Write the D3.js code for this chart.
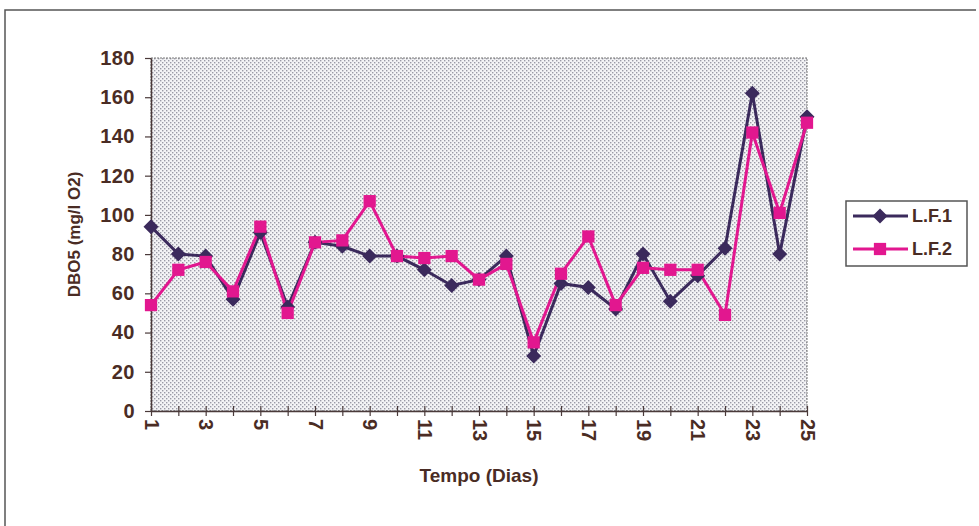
<!DOCTYPE html>
<html><head><meta charset="utf-8">
<script src="https://cdn.jsdelivr.net/npm/d3@7"></script>
<style>body{margin:0;background:#fff}svg{display:block}text{font-family:"Liberation Sans",Arial,sans-serif;font-weight:bold;fill:#4a2c24}</style>
</head><body><svg id="c" width="979" height="526"></svg>
<script>
const days = d3.range(1, 26);
const lf1 = [94,80,79,57,91,53,86,84,79,79,72,64,67,79,28,65,63,52,80,56,69,83,162,80,150];
const lf2 = [54,72,76,61,94,50,86,87,107,79,78,79,67,75,35,70,89,54,73,72,72,49,142,101,147];
const seriesNames = ["L.F.1","L.F.2"];
const yTicks = [0,20,40,60,80,100,120,140,160,180];

const svg = d3.select("#c");
const m = {l:151, r:807, t:58, b:411};
const x = d3.scaleLinear().domain([1,25]).range([m.l, m.r]);
const y = d3.scaleLinear().domain([0,180]).range([m.b, m.t]);

const defs = svg.append("defs");
const pat = defs.append("pattern").attr("id","dots").attr("width",4).attr("height",4).attr("patternUnits","userSpaceOnUse");
pat.append("rect").attr("width",4).attr("height",4).attr("fill","#f4f4f6");
pat.append("rect").attr("x",0).attr("y",0).attr("width",1.4).attr("height",1.4).attr("fill","#9a9aa6");
pat.append("rect").attr("x",2).attr("y",2).attr("width",1.4).attr("height",1.4).attr("fill","#9a9aa6");

// outer frame
svg.append("path").attr("d","M5,526 V10 H976").attr("fill","none").attr("stroke","#555").attr("stroke-width",1.5);

// plot area
svg.append("rect").attr("x",m.l).attr("y",m.t).attr("width",m.r-m.l).attr("height",m.b-m.t)
  .attr("fill","url(#dots)").attr("stroke","#777").attr("stroke-width",1).attr("stroke-dasharray","2,1");

// y axis
const ya = svg.append("g").attr("transform",`translate(${m.l},0)`)
  .call(d3.axisLeft(y).tickValues(yTicks).tickSize(6).tickSizeOuter(0));
ya.select(".domain").attr("stroke","#4a3a3a").attr("stroke-width",1.5);
ya.selectAll(".tick line").attr("stroke","#4a3a3a").attr("stroke-width",1.2);
ya.selectAll("text").attr("font-size",20).attr("x",-16).attr("fill","#4a2c24").attr("font-family",null).attr("letter-spacing","0.5");

// x axis
const xa = svg.append("g").attr("transform",`translate(0,${m.b})`)
  .call(d3.axisBottom(x).tickValues(days).tickSize(6).tickSizeOuter(0)
    .tickFormat(d => d % 2 === 1 ? d : ""));
xa.selectAll(".tick line").attr("y1",-5).attr("y2",5);
xa.select(".domain").attr("stroke","#4a3a3a").attr("stroke-width",1.5);
xa.selectAll(".tick line").attr("stroke","#4a3a3a").attr("stroke-width",1.2);
xa.selectAll("text").attr("font-size",20).attr("font-family",null).attr("fill","#4a2c24")
  .attr("transform","rotate(90)").attr("x",8).attr("y",0).attr("dy","0.35em").attr("text-anchor","start");

// axis titles
svg.append("text").attr("transform",`translate(80,${(m.t+m.b)/2}) rotate(-90)`).attr("text-anchor","middle")
  .attr("font-size",17).text("DBO5 (mg/l O2)");
svg.append("text").attr("x",(m.l+m.r)/2).attr("y",482).attr("text-anchor","middle")
  .attr("font-size",19).text("Tempo (Dias)");

const colors = ["#3b2a5c","#e2178f"];
const line = d3.line().x((d,i)=>x(days[i])).y(d=>y(d));
const diamondPath = "M0,-7.5L7.5,0L0,7.5L-7.5,0Z";
const square = d3.symbol().type(d3.symbolSquare).size(150);

[lf1, lf2].forEach((s, k) => {
  svg.append("path").datum(s).attr("d", line).attr("fill","none").attr("stroke",colors[k]).attr("stroke-width",3);
});
[lf1, lf2].forEach((s, k) => {
  svg.append("g").selectAll("path").data(s).join("path")
    .attr("transform",(d,i)=>`translate(${x(days[i])},${y(d)})`)
    .attr("d", k===0 ? diamondPath : square()).attr("fill",colors[k]);
});

// legend
const lg = svg.append("g");
lg.append("rect").attr("x",846).attr("y",201).attr("width",121).attr("height",65)
  .attr("fill","#fff").attr("stroke","#555").attr("stroke-width",1.5);
seriesNames.forEach((n,k) => {
  const yy = 216 + k*33;
  lg.append("line").attr("x1",853).attr("x2",908).attr("y1",yy).attr("y2",yy).attr("stroke",colors[k]).attr("stroke-width",3);
  lg.append("path").attr("transform",`translate(880,${yy})`).attr("d", k===0?diamondPath:square()).attr("fill",colors[k]);
  lg.append("text").attr("x",912).attr("y",yy).attr("dy","0.36em").attr("font-size",18).text(n);
});
</script></body></html>
